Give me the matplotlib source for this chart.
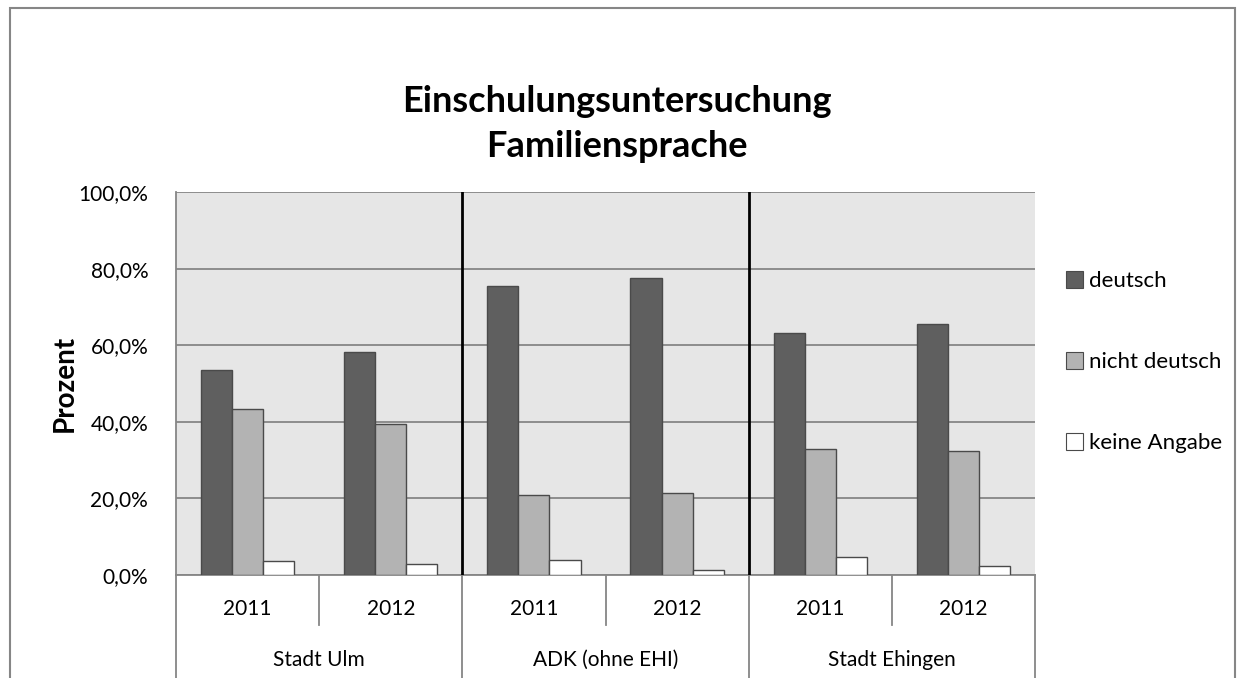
import matplotlib
matplotlib.use("Agg")
import matplotlib.pyplot as plt
import matplotlib.transforms as mtransforms
from matplotlib.patches import Rectangle, Patch
import numpy as np

plt.rcParams['font.family'] = ['Lato', 'DejaVu Sans']

years = ['2011', '2012', '2011', '2012', '2011', '2012']
groups = ['Stadt Ulm', 'ADK (ohne EHI)', 'Stadt Ehingen']
series = ['deutsch', 'nicht deutsch', 'keine Angabe']
deutsch = [53.4, 58.1, 75.4, 77.5, 63.2, 65.5]
nicht_deutsch = [43.4, 39.3, 21.0, 21.3, 32.8, 32.4]
keine_angabe = [3.6, 3.0, 3.8, 1.2, 4.6, 2.3]
colors = ['#5f5f5f', '#b3b3b3', '#ffffff']

W, H = 1237, 678
fig = plt.figure(figsize=(W / 100, H / 100), dpi=100)
fig.patch.set_facecolor('white')

# outer chart border
fig.patches.append(Rectangle((10 / W, -0.01), (W - 12) / W, (H - 8) / H + 0.01,
                             transform=fig.transFigure, fill=False,
                             edgecolor='#868686', linewidth=1.5))

ax = fig.add_axes([176 / W, 103 / H, (1035 - 176) / W, (575 - 192) / H])
ax.set_facecolor('#e6e6e6')

x = np.arange(len(years))
bw = 0.217
for i, (vals, c) in enumerate(zip([deutsch, nicht_deutsch, keine_angabe], colors)):
    ax.bar(x + (i - 1) * bw, vals, bw, color=c, edgecolor='#4a4a4a',
           linewidth=1.0, label=series[i], zorder=3)

ax.set_xlim(-0.5, 5.5)
ax.set_ylim(0, 100)
ax.set_yticks([0, 20, 40, 60, 80, 100])
ax.set_yticklabels(['0,0%', '20,0%', '40,0%', '60,0%', '80,0%', '100,0%'], fontsize=15)
ax.yaxis.grid(True, color='#868686', linewidth=1.3, zorder=1)
ax.tick_params(axis='y', length=0, pad=20)
ax.set_xticks([])
for s in ['top', 'right']:
    ax.spines[s].set_visible(False)
ax.spines['left'].set_color('#868686')
ax.spines['bottom'].set_color('#868686')
ax.spines['left'].set_linewidth(1.3)
ax.spines['bottom'].set_linewidth(1.3)

# black separators between groups
for xs in [1.5, 3.5]:
    ax.axvline(xs, color='black', linewidth=2, zorder=4)

# two-level category axis
trans = mtransforms.blended_transform_factory(ax.transData, ax.transAxes)
px = 1 / (575 - 192)
for xs in [0.5, 2.5, 4.5]:
    ax.plot([xs, xs], [0, -50 * px], color='#868686', linewidth=1.3,
            transform=trans, clip_on=False)
for xs in [-0.5, 1.5, 3.5, 5.5]:
    ax.plot([xs, xs], [0, -105 * px], color='#868686', linewidth=1.3,
            transform=trans, clip_on=False)
for xi, yr in zip(x, years):
    ax.text(xi, -34 * px, yr, transform=trans, ha='center', va='center', fontsize=15)
for gi, g in enumerate(groups):
    ax.text(2 * gi + 0.5, -85 * px, g, transform=trans, ha='center', va='center', fontsize=15)

fig.text(617 / W, 1 - 124 / H, 'Einschulungsuntersuchung\nFamiliensprache',
         ha='center', va='center', fontsize=26, fontweight='bold', linespacing=1.45)
fig.text(65 / W, 1 - 383 / H, 'Prozent', rotation=90, ha='center', va='center',
         fontsize=20, fontweight='bold')

handles = [Patch(facecolor=c, edgecolor='#4a4a4a', linewidth=0.8) for c in colors]
fig.legend(handles, series, loc='upper left', bbox_to_anchor=(1055 / W, 1 - 260 / H),
           frameon=False, fontsize=16, labelspacing=2.75, handlelength=0.75,
           handleheight=0.75, handletextpad=0.3, borderpad=0)

fig.savefig('out.png', dpi=100)
